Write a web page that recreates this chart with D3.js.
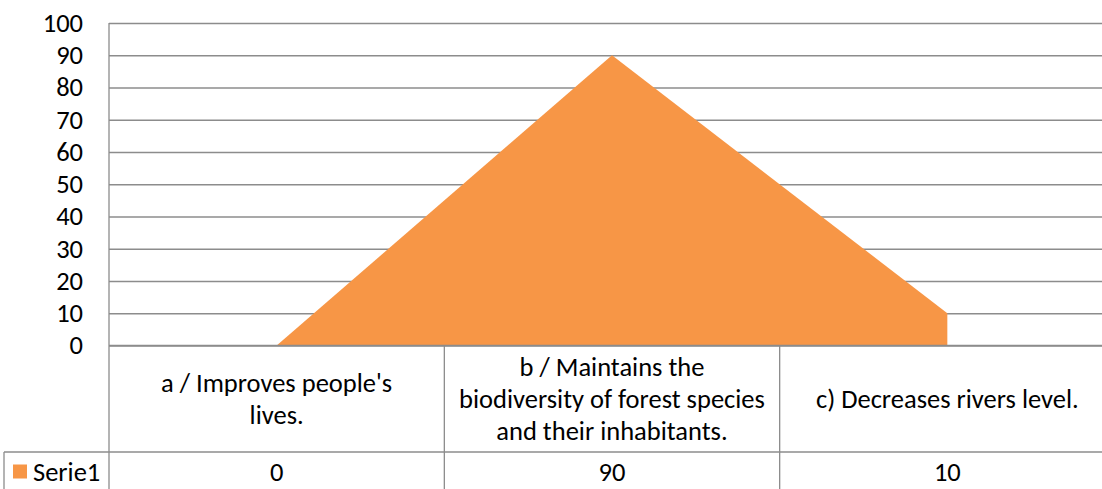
<!DOCTYPE html>
<html>
<head>
<meta charset="utf-8">
<script src="https://cdn.jsdelivr.net/npm/d3@7"></script>
<style>
  body { margin: 0; background: #fff; }
  svg text { font-family: Calibri, Carlito, Lato, sans-serif; fill: #000; }
</style>
</head>
<body>
<svg id="chart"></svg>
<script>
const categories = ["a", "b", "c"];
const categoryLines = [
  ["a / Improves people's", "lives."],
  ["b / Maintains the", "biodiversity of forest species", "and their inhabitants."],
  ["c) Decreases rivers level."]
];
const seriesName = "Serie1";
const values = [0, 90, 10];
const yTicks = [0, 10, 20, 30, 40, 50, 60, 70, 80, 90, 100];

const width = 1102, height = 489;
const margin = {top: 23, left: 109, right: -13};
const plotBottom = 345.5;
const tableHeaderBottom = 452;
const gridColor = "#8c8c8c";
const orange = "#f79646";
const fontSize = 26.5;

const svg = d3.select("#chart").attr("width", width).attr("height", height);

const x = d3.scaleBand()
  .domain(categories)
  .range([margin.left, width - margin.right]);
const y = d3.scaleLinear()
  .domain([0, 100])
  .range([plotBottom, margin.top]);

// gridlines + y labels
const yAxis = d3.axisLeft(y)
  .tickValues(yTicks)
  .tickSize(-(width - margin.right - margin.left))
  .tickPadding(26);
const yg = svg.append("g")
  .attr("transform", `translate(${margin.left},0)`)
  .call(yAxis)
  .attr("font-size", fontSize)
  .attr("font-family", null);
yg.select(".domain").remove();
yg.selectAll(".tick line").attr("stroke", gridColor).attr("stroke-width", 1.3);
yg.selectAll(".tick text").attr("fill", "#000");

// area
const data = categories.map((c, i) => ({c, v: values[i]}));
const area = d3.area()
  .x((d) => x(d.c) + x.bandwidth() / 2)
  .y0(y(0))
  .y1((d) => y(d.v));
svg.append("path")
  .datum(data)
  .attr("fill", orange)
  .attr("d", area);

// data table lines
const lines = svg.append("g").attr("stroke", gridColor).attr("stroke-width", 1.3);
lines.append("line")
  .attr("x1", margin.left).attr("x2", width)
  .attr("y1", y(0)).attr("y2", y(0));
lines.append("line")
  .attr("x1", 4).attr("x2", width)
  .attr("y1", tableHeaderBottom).attr("y2", tableHeaderBottom);
lines.append("line")
  .attr("x1", margin.left).attr("x2", margin.left)
  .attr("y1", margin.top).attr("y2", height);
lines.append("line")
  .attr("x1", 4).attr("x2", 4)
  .attr("y1", tableHeaderBottom).attr("y2", height);
lines.selectAll("line.col")
  .data(categories.slice(1))
  .enter()
  .append("line")
  .attr("class", "col")
  .attr("x1", (d) => x(d)).attr("x2", (d) => x(d))
  .attr("y1", y(0)).attr("y2", height);

// category labels
const lineHeight = 32;
const headerMid = (y(0) + tableHeaderBottom) / 2;
categories.forEach((c, i) => {
  const ls = categoryLines[i];
  const t = svg.append("text")
    .attr("text-anchor", "middle")
    .attr("font-size", fontSize);
  ls.forEach((l, j) => {
    t.append("tspan")
      .attr("x", x(c) + x.bandwidth() / 2)
      .attr("y", headerMid + (j - (ls.length - 1) / 2) * lineHeight)
      .attr("dy", "0.35em")
      .text(l);
  });
});

// value row
const rowMid = (tableHeaderBottom + height) / 2 + 1;
svg.selectAll("text.val")
  .data(data)
  .enter()
  .append("text")
  .attr("class", "val")
  .attr("text-anchor", "middle")
  .attr("font-size", fontSize)
  .attr("x", (d) => x(d.c) + x.bandwidth() / 2)
  .attr("y", rowMid)
  .attr("dy", "0.35em")
  .text((d) => d.v);

// legend key
svg.append("rect")
  .attr("x", 13).attr("y", rowMid - 7)
  .attr("width", 14).attr("height", 14)
  .attr("fill", orange);
svg.append("text")
  .attr("x", 33).attr("y", rowMid)
  .attr("dy", "0.35em")
  .attr("font-size", fontSize)
  .text(seriesName);
</script>
</body>
</html>
